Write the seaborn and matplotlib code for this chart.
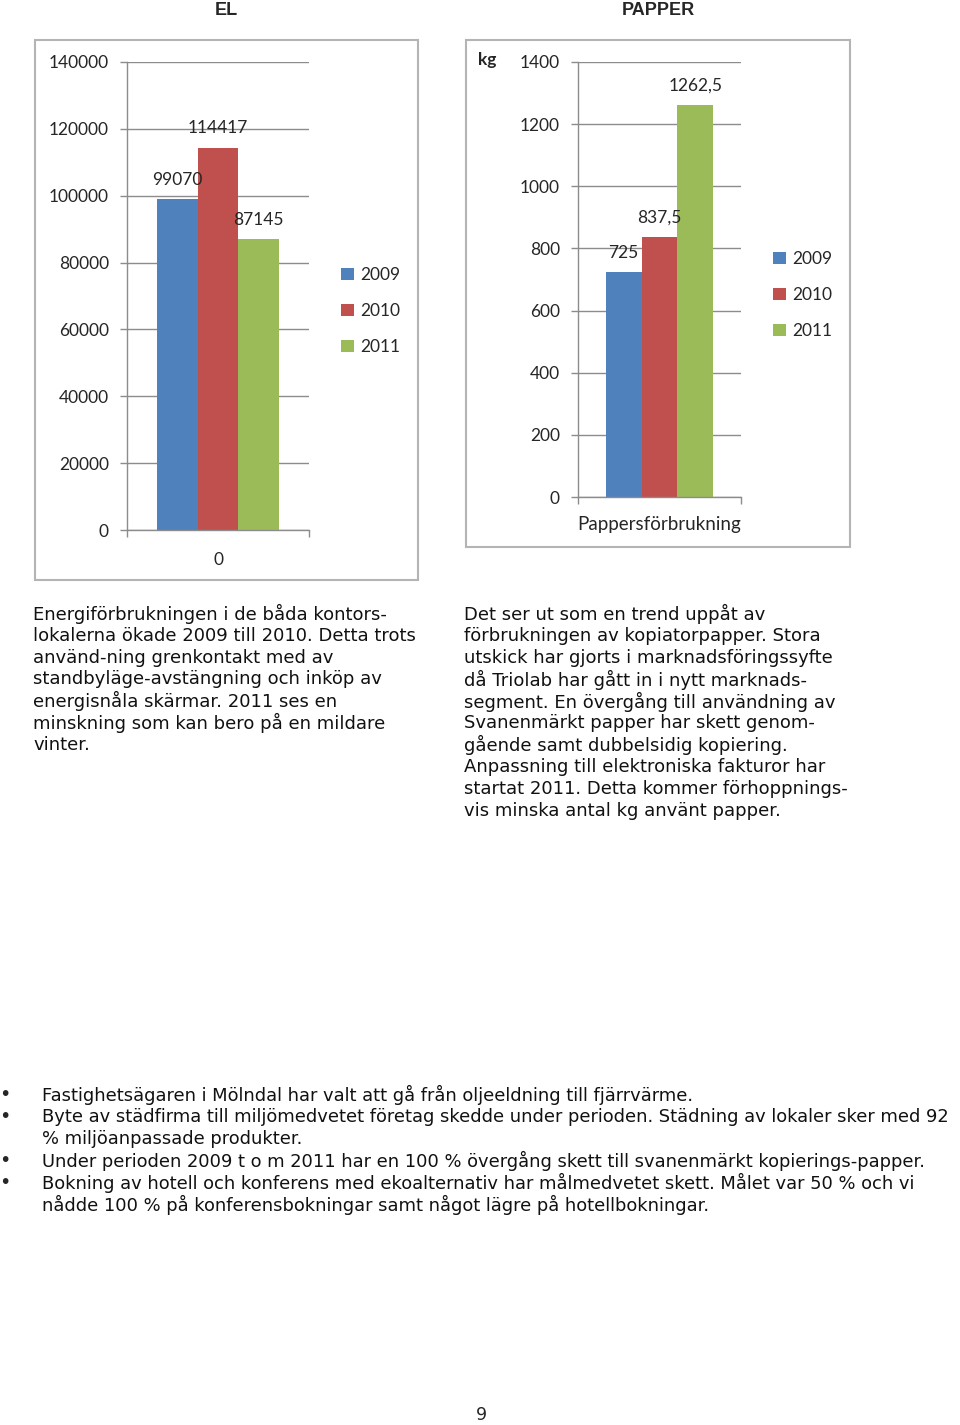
import matplotlib
matplotlib.use("Agg")
import matplotlib.pyplot as plt
import seaborn as sns
import pandas as pd
from matplotlib.patches import Rectangle

sns.set_style("white")
plt.rcParams['font.family'] = ['Lato', 'DejaVu Sans']

# ---------------- data ----------------
years = ["2009", "2010", "2011"]
el_category = ["0"]
el_values = [99070, 114417, 87145]
papper_category = ["Pappersförbrukning"]
papper_values = [725, 837.5, 1262.5]
el_yticks = [0, 20000, 40000, 60000, 80000, 100000, 120000, 140000]
papper_yticks = [0, 200, 400, 600, 800, 1000, 1200, 1400]
colors = ["#4F81BD", "#C0504D", "#9BBB59"]

left_text = [
    "Energiförbrukningen i de båda kontors-",
    "lokalerna ökade 2009 till 2010. Detta trots",
    "använd-ning grenkontakt med av",
    "standbyläge-avstängning och inköp av",
    "energisnåla skärmar. 2011 ses en",
    "minskning som kan bero på en mildare",
    "vinter.",
]
right_text = [
    "Det ser ut som en trend uppåt av",
    "förbrukningen av kopiatorpapper. Stora",
    "utskick har gjorts i marknadsföringssyfte",
    "då Triolab har gått in i nytt marknads-",
    "segment. En övergång till användning av",
    "Svanenmärkt papper har skett genom-",
    "gående samt dubbelsidig kopiering.",
    "Anpassning till elektroniska fakturor har",
    "startat 2011. Detta kommer förhoppnings-",
    "vis minska antal kg använt papper.",
]
bullets = [
    ["Fastighetsägaren i Mölndal har valt att gå från oljeeldning till fjärrvärme."],
    ["Byte av städfirma till miljömedvetet företag skedde under perioden. Städning av lokaler sker med 92",
     "% miljöanpassade produkter."],
    ["Under perioden 2009 t o m 2011 har en 100 % övergång skett till svanenmärkt kopierings-papper."],
    ["Bokning av hotell och konferens med ekoalternativ har målmedvetet skett. Målet var 50 % och vi",
     "nådde 100 % på konferensbokningar samt något lägre på hotellbokningar."],
]

W, H = 960, 1425
fig = plt.figure(figsize=(W / 100, H / 100), dpi=100)
fig.patch.set_facecolor("white")


def fx(x):
    return x / W


def fy(y):
    return 1 - y / H


def add_ax(l, t, r, b):
    return fig.add_axes([fx(l), fy(b), fx(r) - fx(l), (b - t) / H])


def style_axis(ax, yticks, ymax):
    ax.set_ylim(0, ymax)
    ax.set_xlim(-0.5, 0.5)
    ax.set_yticks(yticks)
    ax.set_yticklabels([str(t) for t in yticks])
    ax.yaxis.grid(True, color="#8C8C8C", linewidth=1)
    ax.set_axisbelow(True)
    for s in ["top", "right"]:
        ax.spines[s].set_visible(False)
    for s in ["left", "bottom"]:
        ax.spines[s].set_color("#8C8C8C")
        ax.spines[s].set_linewidth(1)
    ax.tick_params(axis="y", which="major", left=True, length=5, color="#8C8C8C",
                   width=1, labelsize=12.5, pad=8)
    ax.tick_params(axis="x", which="major", bottom=False, labelsize=12.5, pad=12)
    ax.set_xticks([-0.5, 0.5], minor=True)
    ax.tick_params(axis="x", which="minor", bottom=True, length=5, color="#8C8C8C", width=1)
    ax.set_xlabel("")
    ax.set_ylabel("")


def legend(x, y):
    handles = [Rectangle((0, 0), 1, 1, facecolor=c, edgecolor="none") for c in colors]
    fig.legend(handles, years, loc="upper left", bbox_to_anchor=(fx(x), fy(y)),
               frameon=False, fontsize=12.5, handlelength=0.75, handleheight=0.75,
               handletextpad=0.35, labelspacing=1.15, borderaxespad=0, borderpad=0)


# ---------------- EL chart ----------------
fig.add_artist(Rectangle((fx(35), fy(580)), fx(418) - fx(35), (580 - 40) / H,
                         transform=fig.transFigure, fill=False, edgecolor="#B4B4B4",
                         linewidth=1.5))
ax1 = add_ax(127, 62, 309, 530)
df_el = pd.DataFrame({"kategori": el_category * len(years), "år": years, "värde": el_values})
sns.barplot(data=df_el, x="kategori", y="värde", hue="år", palette=colors, ax=ax1,
            width=0.665, gap=0, saturation=1, legend=False, edgecolor="none")
style_axis(ax1, el_yticks, 140000)
for cont in ax1.containers:
    ax1.bar_label(cont, labels=[f"{v:.0f}" for v in cont.datavalues], padding=8,
                  fontsize=12.5)
legend(341, 267)
fig.text(fx(226), fy(15), "EL", ha="center", va="baseline", fontsize=13,
         fontweight="bold", family="Liberation Sans")

# ---------------- PAPPER chart ----------------
fig.add_artist(Rectangle((fx(466), fy(547)), fx(850) - fx(466), (547 - 40) / H,
                         transform=fig.transFigure, fill=False, edgecolor="#B4B4B4",
                         linewidth=1.5))
ax2 = add_ax(578, 62, 741, 497)
df_p = pd.DataFrame({"kategori": papper_category * len(years), "år": years,
                     "värde": papper_values})
sns.barplot(data=df_p, x="kategori", y="värde", hue="år", palette=colors, ax=ax2,
            width=0.66, gap=0, saturation=1, legend=False, edgecolor="none")
style_axis(ax2, papper_yticks, 1400)
ax2.tick_params(axis="x", which="major", pad=10, labelsize=13.5)
for cont in ax2.containers:
    ax2.bar_label(cont, labels=[f"{v:g}".replace(".", ",") for v in cont.datavalues],
                  padding=8, fontsize=12.5)
legend(773, 251)
fig.text(fx(487), fy(60), "kg", ha="center", va="center", fontsize=12.5,
         fontweight="bold")
fig.text(fx(658), fy(15), "PAPPER", ha="center", va="baseline", fontsize=13,
         fontweight="bold", family="Liberation Sans")

# ---------------- texts ----------------
for i, line in enumerate(left_text):
    fig.text(fx(33), fy(614 + i * 21.8), line, ha="left", va="center", fontsize=13,
             family="DejaVu Sans", color="#111111")
for i, line in enumerate(right_text):
    fig.text(fx(464), fy(614 + i * 21.9), line, ha="left", va="center", fontsize=13,
             family="DejaVu Sans", color="#111111")

row = 0
for b in bullets:
    for j, line in enumerate(b):
        y = 1095 + row * 22
        if j == 0:
            fig.text(fx(5), fy(y), "•", ha="center", va="center", fontsize=14,
                     family="DejaVu Sans")
        fig.text(fx(42), fy(y), line, ha="left", va="center", fontsize=12.9,
                 family="DejaVu Sans", color="#111111")
        row += 1

fig.text(fx(481), fy(1415), "9", ha="center", va="center", fontsize=12.5,
         family="DejaVu Sans")

fig.savefig("out.png", dpi=100, facecolor="white")
